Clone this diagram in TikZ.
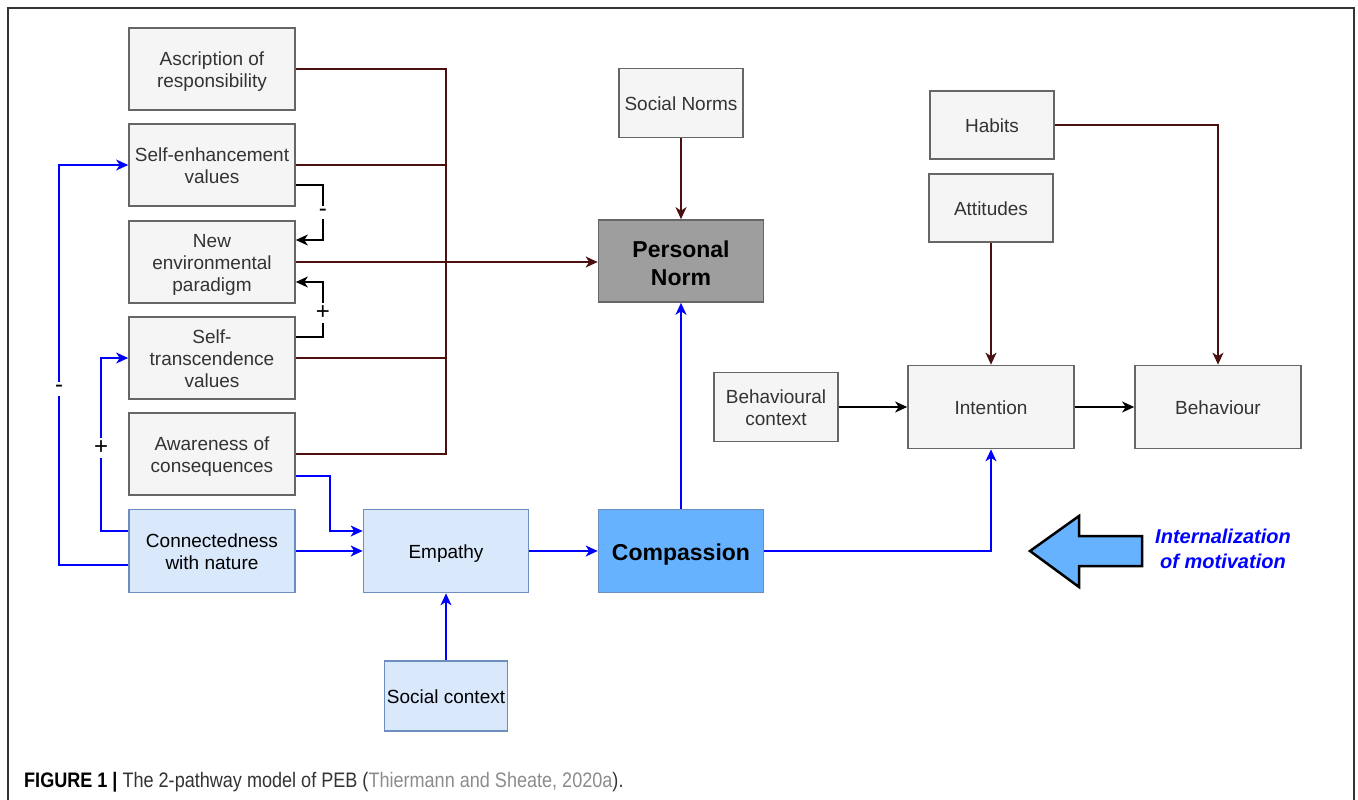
\documentclass[tikz,border=0pt]{standalone}
\usepackage{fontspec}
\setmainfont{Liberation Sans}
\newfontfamily\capfont{Liberation Sans}[FakeStretch=0.86]
\usetikzlibrary{arrows.meta,calc}
\definecolor{gfill}{HTML}{F5F5F5}
\definecolor{gline}{HTML}{666666}
\definecolor{gtext}{HTML}{333333}
\definecolor{bfill}{HTML}{DAE8FC}
\definecolor{bline}{HTML}{6C8EBF}
\definecolor{cfill}{HTML}{66B2FF}
\definecolor{pfill}{HTML}{9E9E9E}
\definecolor{brn}{HTML}{4A1010}
\definecolor{blu}{HTML}{0000FF}
\definecolor{capgray}{HTML}{8C8C8C}
\newcommand{\sta}{\rule[-5pt]{0pt}{25pt}}
\newcommand{\stt}{\rule{0pt}{20pt}}
\newcommand{\stb}{\rule[-5pt]{0pt}{5pt}}
\begin{document}
\begin{tikzpicture}[x=1pt,y=-1pt,
  box/.style={draw=gline, fill=gfill, text=gtext, align=center, inner sep=0pt,
    minimum width=166pt, minimum height=82pt, line width=1.7pt,
    font=\fontsize{19}{22}\selectfont},
  sbox/.style={box, minimum width=124pt, minimum height=69pt},
  bluebox/.style={box, fill=bfill, draw=bline, text=black},
  conn/.style={line width=1.5pt},
  brnline/.style={conn, draw=brn},
  bluline/.style={conn, draw=blu},
  blkline/.style={conn, draw=black},
  tip/.style={-{Stealth[length=12pt,width=11pt,inset=3.5pt]}},
  sign/.style={fill=white, text=black, inner sep=3pt, font=\fontsize{24}{26}\selectfont}
]
\useasboundingbox (0,0) rectangle (1358,800);
% frame
\draw[line width=1.5pt, draw=gtext] (8,812) -- (8,8) -- (1354,8) -- (1354,812);

% left column
\node[box] (asc) at (212,69) {\stt Ascription of\\responsibility\stb};
\node[box] (seh) at (212,165) {\stt Self-enhancement\\values\stb};
\node[box] (nep) at (212,262) {\stt New\\environmental\\paradigm\stb};
\node[box] (stv) at (212,358) {\stt Self-\\transcendence\\values\stb};
\node[box] (aoc) at (212,454) {\stt Awareness of\\consequences\stb};
\node[bluebox, minimum height=83pt] (cwn) at (212,551) {\stt Connectedness\\with nature\stb};
\node[bluebox, minimum width=165pt, minimum height=83pt] (emp) at (446,551) {\sta Empathy};
\node[box, fill=cfill, draw=bline, text=black, minimum width=165pt, minimum height=83pt,
  font=\fontsize{23}{26}\selectfont\bfseries] (com) at (681,551) {\rule[-5pt]{0pt}{28pt}Compassion};
\node[box, fill=pfill, draw=gline, text=black, minimum width=165pt,
  font=\fontsize{23}{28}\selectfont\bfseries] (pn) at (681,261) {\rule{0pt}{26pt}Personal\\Norm\rule[-6pt]{0pt}{6pt}};
\node[sbox] (sn) at (681,103) {\sta Social Norms};
\node[sbox, fill=bfill, draw=bline, text=black, minimum width=123pt, minimum height=70pt] (sc) at (446,696) {\sta Social context};
\node[sbox] (bc) at (776,407) {\stt Behavioural\\context\stb};
\node[box, minimum height=83pt] (int) at (991,407) {\sta Intention};
\node[box, minimum height=83pt] (beh) at (1218,407) {\sta Behaviour};
\node[sbox, minimum height=68pt] (hab) at (992,125) {\sta Habits};
\node[sbox, minimum height=68pt] (att) at (991,208) {\sta Attitudes};

% brown bus
\coordinate (bus) at (446,0);
\draw[brnline] (asc.east) -- (asc.east -| bus) -- (aoc.east -| bus) -- (aoc.east);
\draw[brnline] (seh.east) -- (seh.east -| bus);
\draw[brnline] (stv.east) -- (stv.east -| bus);
\draw[brnline, tip] (nep.east) -- (nep.east -| pn.west);
\draw[brnline, tip] (sn.south) -- (pn.north);
\draw[brnline, tip] (att.south) -- (att.south |- int.north);
\draw[brnline, tip] (hab.east) -| (beh.north);

% black
\draw[blkline, tip] ($(seh.east)+(0,20)$) -- ++(27,0) |- node[sign, pos=0.25] {-} ($(nep.east)+(0,-22)$);
\draw[blkline, tip] ($(stv.east)+(0,-21)$) -- ++(27,0) |- node[sign, pos=0.22] {+} ($(nep.east)+(0,20)$);
\draw[blkline, tip] (bc.east) -- (bc.east -| int.west);
\draw[blkline, tip] (int.east) -- (beh.west);

% blue
\draw[bluline, tip] ($(cwn.west)+(0,-20)$) -- ++(-27,0) |- node[sign, pos=0.24] {+} (stv.west);
\draw[bluline, tip] ($(cwn.west)+(0,14)$) -- ++(-69,0) |- node[sign, pos=0.22] {-} (seh.west);
\draw[bluline, tip] ($(aoc.east)+(0,22)$) -- ++(34,0) |- ($(emp.west)+(0,-20)$);
\draw[bluline, tip] (cwn.east) -- (emp.west);
\draw[bluline, tip] (sc.north) -- (emp.south);
\draw[bluline, tip] (emp.east) -- (com.west);
\draw[bluline, tip] (com.north) -- (pn.south);
\draw[bluline, tip] (com.east) -| (int.south);

% big arrow
\draw[line width=2.5pt, fill=cfill, line join=miter]
  (1030,551) -- (1079,516) -- (1079,536) -- (1142,536) -- (1142,566) -- (1079,566) -- (1079,587) -- cycle;
\node[text=blu, align=center, font=\fontsize{20}{25}\selectfont\bfseries\itshape] (lbl) at (1223,549) {Internalization\\of motivation};

% caption
\node[anchor=base west, inner sep=0pt, font=\capfont\fontsize{21}{23}\selectfont] (cap) at (24,787)
  {\textbf{FIGURE 1 |} \textcolor{gtext}{The 2-pathway model of PEB (}\textcolor{capgray}{Thiermann and Sheate, 2020a}\textcolor{gtext}{).}};
\end{tikzpicture}
\end{document}
